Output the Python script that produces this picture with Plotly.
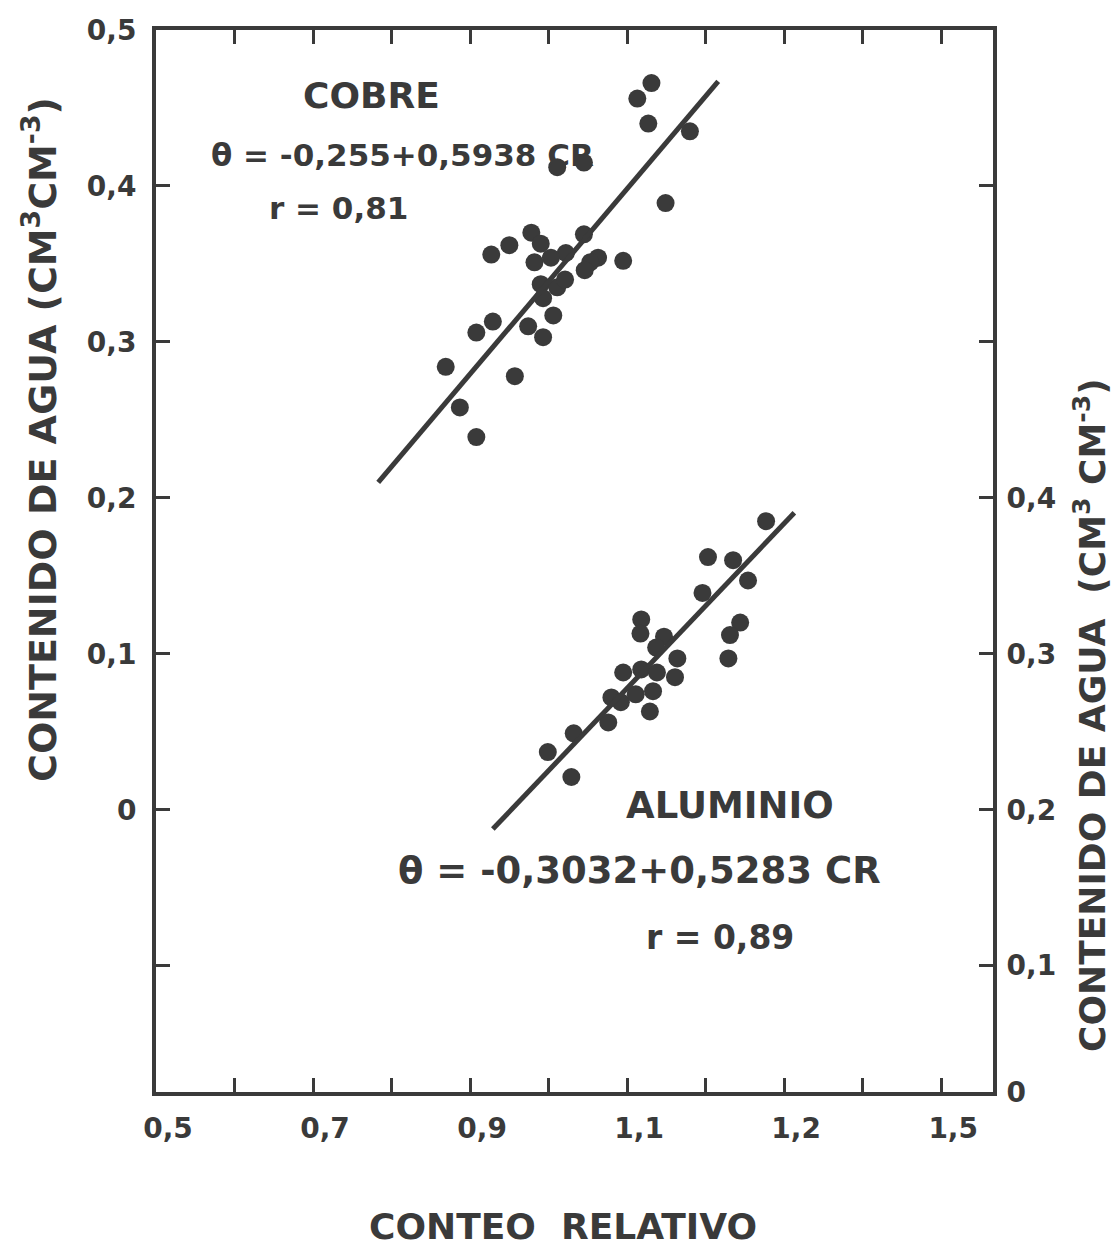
import plotly.graph_objects as go

# ---------------- data ----------------
cobre_cr = [1.131, 1.113, 1.127, 1.180, 1.011, 1.045, 1.149, 0.978, 0.990, 0.950,
            0.927, 1.045, 1.022, 1.003, 0.982, 1.063, 1.053, 1.046, 1.095, 0.990,
            1.011, 1.021, 0.993, 1.006, 0.929, 0.908, 0.974, 0.993, 0.869, 0.957,
            0.887, 0.908]
cobre_theta = [0.466, 0.456, 0.440, 0.435, 0.412, 0.415, 0.389, 0.370, 0.363, 0.362,
               0.356, 0.369, 0.357, 0.354, 0.351, 0.354, 0.351, 0.346, 0.352, 0.337,
               0.335, 0.340, 0.328, 0.317, 0.313, 0.306, 0.310, 0.303, 0.284, 0.278,
               0.258, 0.239]

# aluminio values are on the right-hand axis
alum_cr = [1.277, 1.203, 1.235, 1.254, 1.196, 1.244, 1.231, 1.229, 1.118, 1.117,
           1.147, 1.137, 1.164, 1.095, 1.118, 1.138, 1.161, 1.080, 1.092, 1.111,
           1.133, 1.129, 1.076, 1.032, 0.999, 1.029]
alum_theta = [0.385, 0.362, 0.360, 0.347, 0.339, 0.320, 0.312, 0.297, 0.322, 0.313,
              0.311, 0.304, 0.297, 0.288, 0.290, 0.288, 0.285, 0.272, 0.269, 0.274,
              0.276, 0.263, 0.256, 0.249, 0.237, 0.221]

# regression lines (coefficients printed on the chart) and their drawn extent
cobre_coef = (-0.255, 0.5938)
cobre_line_cr = [0.783, 1.216]
alum_coef = (-0.3032, 0.5283)
alum_line_cr = [0.929, 1.313]

x_tickvals = [0.5, 0.7, 0.9, 1.1, 1.3, 1.5]
x_ticktext = ["0,5", "0,7", "0,9", "1,1", "1,2", "1,5"]
y_tickvals = [0.0, 0.1, 0.2, 0.3, 0.4, 0.5]
y_ticktext = ["0", "0,1", "0,2", "0,3", "0,4", "0,5"]
y2_tickvals = [0.019, 0.1, 0.2, 0.3, 0.4]
y2_ticktext = ["0", "0,1", "0,2", "0,3", "0,4"]

# ---------------- styling ----------------
INK = "#3a3a3a"
FONT = "DejaVu Sans"
W, H = 1117, 1252
L, R, T, B = 156, 993, 30, 1092


def px(x, y):
    return (x - L) / (R - L), (B - y) / (B - T)


cobre_line_y = [cobre_coef[0] + cobre_coef[1] * c for c in cobre_line_cr]
alum_line_y = [alum_coef[0] + alum_coef[1] * c for c in alum_line_cr]

fig = go.Figure()
fig.add_trace(go.Scatter(x=cobre_cr, y=cobre_theta, mode="markers",
                         marker=dict(size=18, color=INK), showlegend=False))
fig.add_trace(go.Scatter(x=cobre_line_cr, y=cobre_line_y, mode="lines",
                         line=dict(color=INK, width=5), showlegend=False))
fig.add_trace(go.Scatter(x=alum_cr, y=alum_theta, mode="markers", yaxis="y2",
                         marker=dict(size=18, color=INK), showlegend=False))
fig.add_trace(go.Scatter(x=alum_line_cr, y=alum_line_y, mode="lines", yaxis="y2",
                         line=dict(color=INK, width=5), showlegend=False))

tickfont = dict(family=FONT, size=28, color=INK, weight="bold")
minor_style = dict(ticks="inside", ticklen=14, tickwidth=3, tickcolor=INK)

fig.update_layout(
    width=W, height=H,
    margin=dict(l=L, r=W - R, t=T, b=H - B),
    paper_bgcolor="white", plot_bgcolor="white",
    xaxis=dict(range=[0.5, 1.566], tickvals=x_tickvals, ticktext=x_ticktext,
               ticks="inside", ticklen=14, tickwidth=3, tickcolor=INK,
               minor=dict(dtick=0.1, tick0=0.5, **minor_style),
               showline=True, linewidth=4, linecolor=INK, mirror="allticks",
               showgrid=False, zeroline=False, tickfont=tickfont,
               ticklabelstandoff=8, ticklabelshift=12),
    yaxis=dict(range=[-0.181, 0.5], tickvals=y_tickvals, ticktext=y_ticktext,
               ticks="inside", ticklen=14, tickwidth=3, tickcolor=INK,
               minor=dict(dtick=0.1, tick0=0.0, **minor_style),
               showline=True, linewidth=4, linecolor=INK,
               showgrid=False, zeroline=False, tickfont=tickfont,
               ticklabelstandoff=10),
    yaxis2=dict(range=[0.019, 0.7], tickvals=y2_tickvals, ticktext=y2_ticktext,
                overlaying="y", side="right",
                ticks="inside", ticklen=14, tickwidth=3, tickcolor=INK,
                minor=dict(dtick=0.1, tick0=0.0, **minor_style),
                showline=True, linewidth=4, linecolor=INK,
                showgrid=False, zeroline=False, tickfont=tickfont,
                ticklabelstandoff=4),
)

texts = [
    ("COBRE", 371, 96, 36),
    ("θ = -0,255+0,5938 CR", 402, 155, 31),
    ("r = 0,81", 338, 208, 31),
    ("ALUMINIO", 730, 805, 37),
    ("θ = -0,3032+0,5283 CR", 639, 870, 37),
    ("r = 0,89", 720, 937, 33),
]
for t, x, y, s in texts:
    xp, yp = px(x, y)
    fig.add_annotation(text=t, x=xp, y=yp, xref="paper", yref="paper",
                       showarrow=False, xanchor="center", yanchor="middle",
                       font=dict(family=FONT, size=s, color=INK, weight="bold"))

# axis titles
xp, yp = px(40, 440)
fig.add_annotation(text="CONTENIDO DE AGUA (CM<sup>3</sup>CM<sup>-3</sup>)",
                   x=xp, y=yp, xref="paper", yref="paper", textangle=-90,
                   showarrow=False, xanchor="center", yanchor="middle",
                   font=dict(family=FONT, size=38, color=INK, weight="bold"))
xp, yp = px(1090, 715)
fig.add_annotation(text="CONTENIDO DE AGUA  (CM<sup>3</sup> CM<sup>-3</sup>)",
                   x=xp, y=yp, xref="paper", yref="paper", textangle=-90,
                   showarrow=False, xanchor="center", yanchor="middle",
                   font=dict(family=FONT, size=36, color=INK, weight="bold"))
xp, yp = px(563, 1226)
fig.add_annotation(text="CONTEO  RELATIVO", x=xp, y=yp, xref="paper", yref="paper",
                   showarrow=False, xanchor="center", yanchor="middle",
                   font=dict(family=FONT, size=36, color=INK, weight="bold"))

fig.write_html("out.html")
